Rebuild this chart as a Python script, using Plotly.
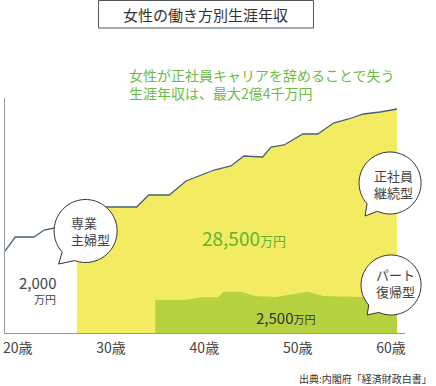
import numpy as np
import plotly.graph_objects as go

# ---------------- data ----------------
ages_full = [18.0, 19.1, 21.1, 22.2, 23.3, 24.3, 25.7, 27.8, 29.7, 32.1, 33.4, 35.6, 37.4,
             39.0, 40.4, 42.2, 43.6, 45.6, 46.5, 47.9, 49.9, 51.5, 53.2, 54.8, 56.4, 58.2, 60.0]
income_full = [8200, 9600, 9600, 10300, 10500, 10700, 11100, 12600, 12600, 12600, 13800, 13800, 15200,
               15800, 16300, 16700, 17700, 17600, 18600, 18800, 19900, 19900, 21000, 21400, 21900, 22100, 22400]
quit_age = 25.7

part_ages = [34.1, 37.3, 39.0, 40.8, 41.4, 43.3, 44.8, 47.0, 50.4, 52.1, 56.1, 58.2, 60.0]
part_income = [3300, 3300, 3570, 3570, 4130, 4130, 3700, 3600, 4130, 3700, 3600, 3400, 3300]

tick_ages = [20, 30, 40, 50, 60]
tick_labels = ["20歳", "30歳", "40歳", "50歳", "60歳"]

FONT = "Noto Sans CJK JP"
W, H = 436, 386
L, R, T, B = 3, 31, 98, 53
PW, PH = W - L - R, H - T - B


def px(x):
    return (x - L) / PW


def py(y):
    return (H - B - y) / PH


fig = go.Figure()

ya = [a for a in ages_full if a >= quit_age]
yv = [v for a, v in zip(ages_full, income_full) if a >= quit_age]
fig.add_trace(go.Scatter(x=ya, y=yv, mode="lines", fill="tozeroy",
                         fillcolor="#F3EC63", line=dict(width=0), hoverinfo="skip"))
fig.add_trace(go.Scatter(x=part_ages, y=part_income, mode="lines", fill="tozeroy",
                         fillcolor="#B6D241", line=dict(width=0), hoverinfo="skip"))
fig.add_trace(go.Scatter(x=ages_full, y=income_full, mode="lines",
                         line=dict(color="#46627A", width=1.3), hoverinfo="skip"))


def bubble(cx, cy, r, g0, g1, tip):
    ang = np.radians(np.linspace(g1, g0 + 360, 72))
    pts = [(r * np.cos(a), r * np.sin(a)) for a in ang]
    pts.append(tip)
    path = "M " + " L ".join(f"{x:.2f},{y:.2f}" for x, y in pts) + " Z"
    return dict(type="path", xref="paper", yref="paper", xsizemode="pixel", ysizemode="pixel",
                xanchor=px(cx), yanchor=py(cy), path=path, fillcolor="white",
                line=dict(color="#333333", width=1), layer="above")


shapes = [
    dict(type="rect", xref="paper", yref="paper", x0=px(97), x1=px(313), y0=py(28), y1=py(0.5),
         line=dict(color="#555555", width=1), fillcolor="white"),
    bubble(84, 231, 31.5, 222, 250, (-27, -33)),
    bubble(390, 183, 31, 222, 246, (-25, -33)),
    bubble(391, 285, 30, 222, 246, (-24, -30)),
]

ann = []


def add(text, x, y, size, color="#444444", xanchor="center", align="center"):
    ann.append(dict(text=text, x=px(x), y=py(y), xref="paper", yref="paper", showarrow=False,
                    xanchor=xanchor, yanchor="middle", align=align,
                    font=dict(family=FONT, size=size, color=color)))


add("女性の働き方別生涯年収", 205, 14.5, 15, color="#333333")
add("女性が正社員キャリアを辞めることで失う<br>生涯年収は、最大2億4千万円", 126, 83.5, 14,
    color="#6DBB45", xanchor="left", align="left")
add("専業<br>主婦型", 67, 231, 13, xanchor="left", align="left")
add("正社員<br>継続型", 393, 184, 13)
add("パート<br>復帰型", 374, 283, 13, xanchor="left", align="left")
add("2,000", 56, 282, 15, xanchor="right", align="right")
add("万円", 56, 299, 11, xanchor="right", align="right")
add("28,500<span style='font-size:13px'>万円</span>", 243, 237, 19, color="#5BB533")
add("2,500<span style='font-size:11px'>万円</span>", 285, 317, 15, color="#333333")
add("出典:内閣府「経済財政白書」", 434, 378, 10, color="#333333", xanchor="right", align="right")

fig.update_layout(
    width=W, height=H, margin=dict(l=L, r=R, t=T, b=B),
    paper_bgcolor="white", plot_bgcolor="white", showlegend=False,
    shapes=shapes, annotations=ann,
    font=dict(family=FONT, color="#333333"),
)
fig.update_xaxes(range=[18, 18 + PW / 9.381], tickvals=tick_ages, ticktext=tick_labels,
                 showgrid=False, zeroline=False, showline=True, linecolor="#999999", linewidth=1,
                 ticks="", tickfont=dict(family=FONT, size=14, color="#444444"),
                 ticklabelshift=-6, ticklabelstandoff=2)
fig.update_yaxes(range=[0, PH * 100], showgrid=False, zeroline=False, showline=True,
                 linecolor="#999999", linewidth=1, showticklabels=False, ticks="")

fig.write_html("out.html", config={"displayModeBar": False},
               post_script="document.body.style.margin='0';document.body.style.padding='0';")
